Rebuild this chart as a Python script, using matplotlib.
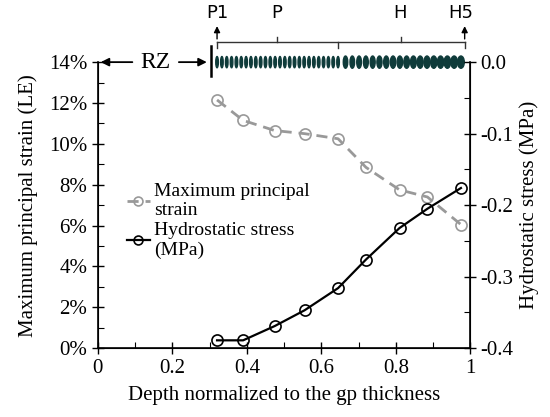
import matplotlib
matplotlib.use('Agg')
import matplotlib.pyplot as plt
from matplotlib.patches import Ellipse
from matplotlib.ticker import MultipleLocator, FuncFormatter
import numpy as np

plt.rcParams['font.family'] = 'Liberation Serif'

# depth positions of the sampled points
depth = [0.32, 0.39, 0.475, 0.555, 0.645, 0.72, 0.81, 0.885, 0.975]
# maximum principal strain (%)
strain = [12.15, 11.15, 10.65, 10.5, 10.25, 8.85, 7.75, 7.4, 6.05]
# hydrostatic stress (MPa)
stress = [-0.389, -0.389, -0.369, -0.347, -0.316, -0.276, -0.232, -0.205, -0.176]

# schematic of the growth plate cells along the top
n_prolif = 26
n_hyper = 18

fig = plt.figure(figsize=(5.5, 4.17), dpi=100)
ax = fig.add_axes([0.178, 0.165, 0.677, 0.686])
ax2 = ax.twinx()

l1, = ax.plot(depth, strain, '--o', color='#999999', lw=2, ms=8,
              mfc='none', mec='#999999', mew=1.2, dashes=(4, 2.5))
l2, = ax2.plot(depth, stress, '-o', color='black', lw=1.6, ms=8,
               mfc='none', mec='black', mew=1.2)

ax.set_xlim(0, 1)
ax.set_ylim(0, 14)
ax2.set_ylim(-0.4, 0)
ax.xaxis.set_major_locator(MultipleLocator(0.2))
ax.xaxis.set_minor_locator(MultipleLocator(0.1))
ax.yaxis.set_major_locator(MultipleLocator(2))
ax.yaxis.set_minor_locator(MultipleLocator(1))
ax2.yaxis.set_major_locator(MultipleLocator(0.1))
ax2.yaxis.set_minor_locator(MultipleLocator(0.05))
ax.xaxis.set_major_formatter(FuncFormatter(lambda v, p: '%g' % round(v, 1)))
ax.yaxis.set_major_formatter(FuncFormatter(lambda v, p: '%d%%' % v))
ax2.yaxis.set_major_formatter(FuncFormatter(lambda v, p: '%.1f' % v))

for a in (ax, ax2):
    a.spines['top'].set_visible(False)
    a.tick_params(which='major', direction='inout', length=8, width=1, labelsize=15)
    a.tick_params(which='minor', direction='in', length=4, width=0.8)
for s in ['left', 'bottom', 'right']:
    ax2.spines[s].set_linewidth(1.2)

ax.set_xlabel('Depth normalized to the gp thickness', fontsize=15, labelpad=6)
ax.set_ylabel('Maximum principal strain (LE)', fontsize=15, labelpad=8)
ax2.set_ylabel('Hydrostatic stress (MPa)', fontsize=15, labelpad=4)

ax.legend([l1, l2], ['Maximum principal\nstrain', 'Hydrostatic stress\n(MPa)'],
          loc='upper left', bbox_to_anchor=(0.03, 0.64), frameon=False,
          fontsize=14, handlelength=1.2, handletextpad=0.2,
          labelspacing=0.15, markerscale=0.8)

# cell column along top
x0, xm, x1 = 0.32, 0.645, 0.985
xs_p = np.linspace(x0, xm, n_prolif)
xs_h = np.linspace(xm + 0.02, x1 - 0.01, n_hyper)
for xx in xs_p:
    ax.add_patch(Ellipse((xx, 14), 0.007, 0.55, color='#0f3b3a', clip_on=False))
for i, xx in enumerate(xs_h):
    w = 0.012 + 0.006 * i / (n_hyper - 1)
    ax.add_patch(Ellipse((xx, 14), w, 0.6, color='#0f3b3a', clip_on=False))

# RZ marker
ax.plot([0.305, 0.305], [13.3, 14.8], color='black', lw=1.8, clip_on=False)
ax.text(0.155, 14, 'RZ', fontsize=17, ha='center', va='center')
ax.annotate('', xy=(0.0, 14), xytext=(0.1, 14),
            arrowprops=dict(arrowstyle='-|>', color='black', lw=1.3,
                            mutation_scale=12), annotation_clip=False)
ax.annotate('', xy=(0.3, 14), xytext=(0.21, 14),
            arrowprops=dict(arrowstyle='-|>', color='black', lw=1.3,
                            mutation_scale=12), annotation_clip=False)

# zone brackets
yb = 15.0
ax.plot([x0, x1], [yb, yb], color='#333333', lw=1, clip_on=False)
for xx in [x0, xm, x1]:
    ax.plot([xx, xx], [yb, yb - 0.3], color='#333333', lw=1, clip_on=False)
for xx in [0.48, 0.815]:
    ax.plot([xx, xx], [yb, yb + 0.25], color='#333333', lw=1, clip_on=False)
for xx in [x0, x1]:
    ax.annotate('', xy=(xx, 15.9), xytext=(xx, yb),
                arrowprops=dict(arrowstyle='-|>', color='black', lw=1,
                                mutation_scale=9), annotation_clip=False)
for xx, lab in [(x0, 'P1'), (0.48, 'P'), (0.81, 'H'), (x1 - 0.01, 'H5')]:
    ax.text(xx, 16.4, lab, fontsize=13, ha='center', va='center',
            family='DejaVu Sans')

fig.savefig('out.png', dpi=100)
